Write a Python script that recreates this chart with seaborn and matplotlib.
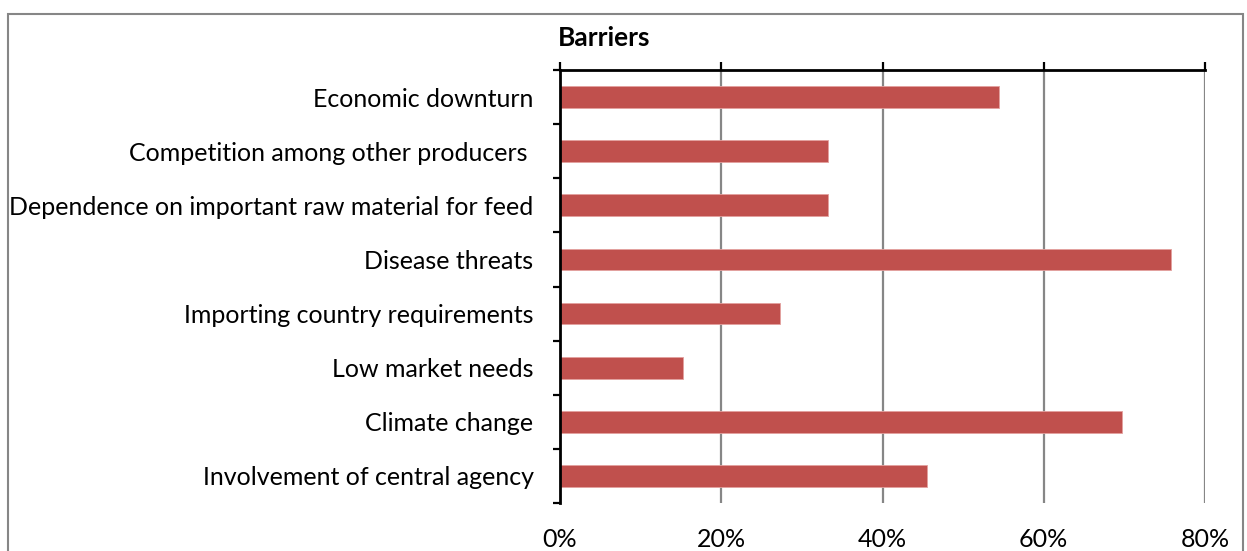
import matplotlib
matplotlib.use("Agg")
import matplotlib.pyplot as plt
from matplotlib.patches import Rectangle
from matplotlib.ticker import PercentFormatter, FixedLocator
import numpy as np
import pandas as pd
import seaborn as sns

# Survey responses: share of respondents naming each barrier
barriers = [
    "Economic downturn",
    "Competition among other producers ",
    "Dependence on important raw material for feed",
    "Disease threats",
    "Importing country requirements",
    "Low market needs",
    "Climate change",
    "Involvement of central agency",
]
shares = [0.545, 0.333, 0.333, 0.758, 0.273, 0.152, 0.697, 0.455]
x_ticks = [0.0, 0.2, 0.4, 0.6, 0.8]

df = pd.DataFrame({"barrier": barriers, "share": shares})

sns.set_theme(style="white")
plt.rcParams["font.family"] = ["Lato", "DejaVu Sans"]

W, H = 1247, 551
fig = plt.figure(figsize=(W / 100, H / 100), dpi=100)
ax = fig.add_axes([560 / W, 1 - 503 / H, (1205 - 560) / W, (503 - 70) / H])

bar_color = "#C0504D"
sns.barplot(data=df, y="barrier", x="share", orient="h", color=bar_color,
            width=0.4, saturation=1, edgecolor="#E3A09E", linewidth=0.6, ax=ax)

n = len(barriers)
ax.set_xlim(0, 0.8)
ax.set_ylim(n - 0.5, -0.5)
ax.set_xlabel("")
ax.set_ylabel("")

# vertical gridlines
for xv in x_ticks[1:]:
    ax.axvline(xv, color="#868686", lw=1.6, zorder=0)

# spines: only left and top in black
for side in ("right", "bottom"):
    ax.spines[side].set_visible(False)
for side in ("left", "top"):
    ax.spines[side].set_color("black")
    ax.spines[side].set_linewidth(2)
    ax.spines[side].set_zorder(5)

label_size = 18

# x axis: tick marks on top, labels at bottom
ax.xaxis.set_major_locator(FixedLocator(x_ticks))
ax.xaxis.set_major_formatter(PercentFormatter(1.0, decimals=0))
ax.tick_params(axis="x", which="major", top=True, bottom=False,
               labeltop=False, labelbottom=True, direction="out",
               length=6, width=1.6, color="black", pad=12,
               labelsize=label_size, labelcolor="black")

# y axis: labels at category centres, tick marks at category boundaries
ax.set_yticks(np.arange(n))
ax.set_yticklabels(barriers)
ax.set_yticks(np.arange(-0.5, n, 1.0), minor=True)
ax.tick_params(axis="y", which="major", left=True, length=0, pad=19,
               labelsize=label_size, labelcolor="black")
ax.tick_params(axis="y", which="minor", left=True, direction="out",
               length=5, width=1.6, color="black")

fig.text(604 / W, 1 - 38 / H, "Barriers", ha="center", va="center",
         fontsize=19, fontweight="bold", color="black")

# chart-area frame
fig.patches.append(Rectangle((8 / W, -0.2), (1243 - 8) / W, 1.2 - 14 / H,
                             transform=fig.transFigure, fill=False,
                             edgecolor="#868686", lw=1.5, zorder=0))

fig.savefig("out.png", dpi=100, facecolor="white")
